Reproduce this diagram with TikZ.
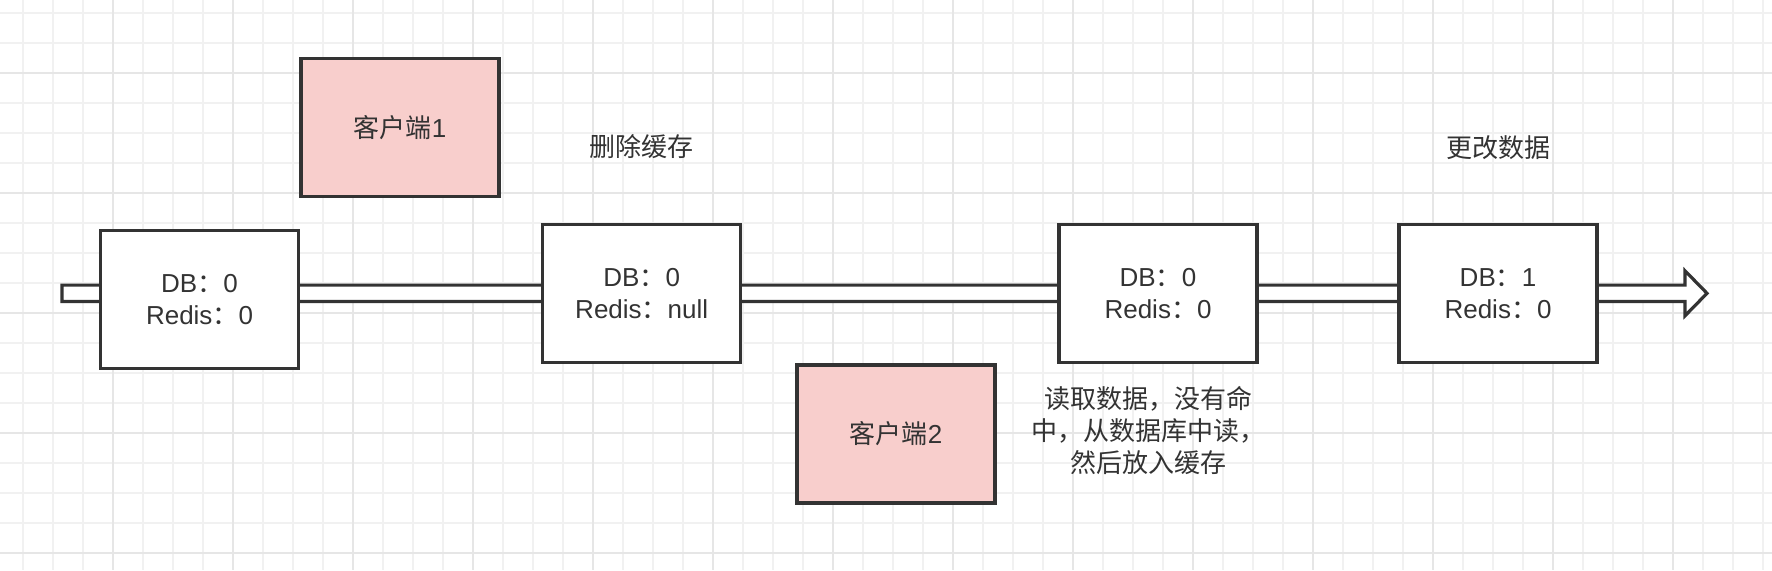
\documentclass[tikz,border=0pt]{standalone}
\usepackage{fontspec}
\setmainfont{Liberation Sans}
\newfontfamily\cjk{Noto Sans CJK SC}
\usetikzlibrary{calc}

\definecolor{linec}{HTML}{333333}
\definecolor{clientfill}{HTML}{F8CECC}
\definecolor{gridminor}{HTML}{F1F1F1}
\definecolor{gridmajor}{HTML}{E6E6E6}

\newcommand{\zh}[1]{{\cjk #1}}

\tikzset{
	state/.style={draw=linec, line width=1.6pt, fill=white, minimum width=99pt, minimum height=69pt, inner sep=0pt, align=center, text=linec, font=\fontsize{13}{16}\selectfont},
	client/.style={state, fill=clientfill},
	note/.style={text=linec, align=center, font=\fontsize{13}{16}\selectfont\cjk},
	timeline/.style={draw=linec, line width=1.6pt, fill=white, line join=miter}
}

\begin{document}
\begin{tikzpicture}[x=0.5pt, y=-0.5pt]
	\useasboundingbox[fill=white] (0,0) rectangle (1772,570);
	
	% draw grid
	\foreach \x in {22.7, 52.7, ..., 1772}
	\draw[gridminor, line width=0.8pt] (\x,0) -- (\x,570);
	
	\foreach \y in {12.7, 42.7, ..., 570}
	\draw[gridminor, line width=0.8pt] (0,\y) -- (1772,\y);
	
	\foreach \x in {112.7, 232.7, ..., 1772}
	\draw[gridmajor, line width=0.8pt] (\x,0) -- (\x,570);
	
	\foreach \y in {72.7, 192.7, 312.7, 432.7, 552.7}
	\draw[gridmajor, line width=0.8pt] (0,\y) -- (1772,\y);
	
	% draw time line
	\coordinate (tlstart) at (62,293.3);
	\coordinate (tlend) at (1707,293.3);
	\draw[timeline] ($(tlstart)+(0,-8.2)$) -- ($(tlend)+(-22,-8.2)$) -- ($(tlend)+(-22,-22.5)$) -- (tlend)
		-- ($(tlend)+(-22,22.5)$) -- ($(tlend)+(-22,8.2)$) -- ($(tlstart)+(0,8.2)$) -- cycle;
	
	% draw states
	\node[state] (s1) at (199.5,299.5) {DB\zh{：}0\\Redis\zh{：}0};
	\node[state] (s2) at (641.7,293.8) {DB\zh{：}0\\Redis\zh{：}null};
	\node[state] (s3) at (1158,293.5) {DB\zh{：}0\\Redis\zh{：}0};
	\node[state] (s4) at (1498,293.5) {DB\zh{：}1\\Redis\zh{：}0};
	
	% draw clients
	\node[client] (c1) at (400,127.7) {\zh{客户端}1};
	\node[client] (c2) at (896,434) {\zh{客户端}2};
	
	% draw notes
	\node[note] (del) at (641.7,146.7) {删除缓存};
	\node[note] (upd) at (1498.5,148) {更改数据};
	\node[note] (read) at (1148,430) {读取数据，没有命\\中，从数据库中读，\\然后放入缓存};
\end{tikzpicture}
\end{document}
